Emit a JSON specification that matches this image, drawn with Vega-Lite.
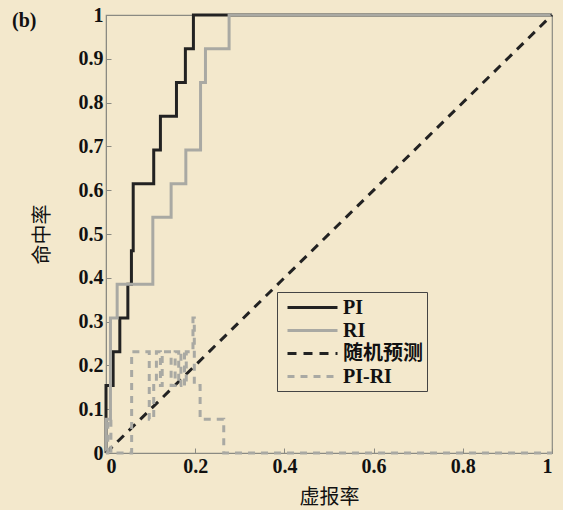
{
  "$schema": "https://vega.github.io/schema/vega-lite/v6.json",
  "width": 446,
  "height": 438,
  "autosize": "none",
  "padding": {"left": 106, "top": 15, "right": 11, "bottom": 57},
  "background": "#f3e8cc",
  "title": {"text": "(b)", "anchor": "start", "frame": "group", "dx": -94, "offset": -26, "fontSize": 20, "font": "Liberation Serif", "fontWeight": "bold", "color": "#111"},
  "config": {
    "view": {"stroke": "#8a8a82", "strokeWidth": 1.2},
    "axis": {"domainColor": "#8a8a82", "tickColor": "#8a8a82", "grid": false, "labelFont": "Liberation Serif", "labelFontWeight": "bold", "labelFontSize": 20, "labelColor": "#111", "titleFont": "Noto Sans CJK SC", "titleFontSize": 20, "titleFontWeight": "normal", "titleColor": "#111", "tickSize": -5, "labelPadding": 8}
  },
  "data": {"values": [
    {"s":"PI","i":0,"x":0,"y":0},{"s":"PI","i":1,"x":0,"y":0.154},{"s":"PI","i":2,"x":0.016,"y":0.154},{"s":"PI","i":3,"x":0.016,"y":0.231},{"s":"PI","i":4,"x":0.031,"y":0.231},{"s":"PI","i":5,"x":0.031,"y":0.308},{"s":"PI","i":6,"x":0.049,"y":0.308},{"s":"PI","i":7,"x":0.049,"y":0.385},{"s":"PI","i":8,"x":0.057,"y":0.385},{"s":"PI","i":9,"x":0.057,"y":0.462},{"s":"PI","i":10,"x":0.061,"y":0.462},{"s":"PI","i":11,"x":0.061,"y":0.615},{"s":"PI","i":12,"x":0.107,"y":0.615},{"s":"PI","i":13,"x":0.107,"y":0.692},{"s":"PI","i":14,"x":0.122,"y":0.692},{"s":"PI","i":15,"x":0.122,"y":0.769},{"s":"PI","i":16,"x":0.158,"y":0.769},{"s":"PI","i":17,"x":0.158,"y":0.846},{"s":"PI","i":18,"x":0.178,"y":0.846},{"s":"PI","i":19,"x":0.178,"y":0.923},{"s":"PI","i":20,"x":0.196,"y":0.923},{"s":"PI","i":21,"x":0.196,"y":1},{"s":"PI","i":22,"x":1,"y":1},
    {"s":"RI","i":0,"x":0,"y":0},{"s":"RI","i":1,"x":0,"y":0.077},{"s":"RI","i":2,"x":0.01,"y":0.077},{"s":"RI","i":3,"x":0.01,"y":0.308},{"s":"RI","i":4,"x":0.025,"y":0.308},{"s":"RI","i":5,"x":0.025,"y":0.385},{"s":"RI","i":6,"x":0.105,"y":0.385},{"s":"RI","i":7,"x":0.105,"y":0.538},{"s":"RI","i":8,"x":0.146,"y":0.538},{"s":"RI","i":9,"x":0.146,"y":0.615},{"s":"RI","i":10,"x":0.179,"y":0.615},{"s":"RI","i":11,"x":0.179,"y":0.692},{"s":"RI","i":12,"x":0.212,"y":0.692},{"s":"RI","i":13,"x":0.212,"y":0.846},{"s":"RI","i":14,"x":0.223,"y":0.846},{"s":"RI","i":15,"x":0.223,"y":0.923},{"s":"RI","i":16,"x":0.276,"y":0.923},{"s":"RI","i":17,"x":0.276,"y":1},{"s":"RI","i":18,"x":1,"y":1},
    {"s":"随机预测","i":0,"x":0,"y":0},{"s":"随机预测","i":1,"x":1,"y":1},
    {"s":"PI-RI","i":0,"x":0,"y":0},{"s":"PI-RI","i":1,"x":0.004,"y":0},{"s":"PI-RI","i":2,"x":0.004,"y":0.077},{"s":"PI-RI","i":3,"x":0.011,"y":0.077},{"s":"PI-RI","i":4,"x":0.011,"y":0},{"s":"PI-RI","i":5,"x":0.0575,"y":0},{"s":"PI-RI","i":6,"x":0.0575,"y":0.231},{"s":"PI-RI","i":7,"x":0.097,"y":0.231},{"s":"PI-RI","i":8,"x":0.097,"y":0.077},{"s":"PI-RI","i":9,"x":0.107,"y":0.077},{"s":"PI-RI","i":10,"x":0.107,"y":0.154},{"s":"PI-RI","i":11,"x":0.113,"y":0.154},{"s":"PI-RI","i":12,"x":0.113,"y":0.231},{"s":"PI-RI","i":13,"x":0.122,"y":0.231},{"s":"PI-RI","i":14,"x":0.122,"y":0.154},{"s":"PI-RI","i":15,"x":0.126,"y":0.154},{"s":"PI-RI","i":16,"x":0.126,"y":0.231},{"s":"PI-RI","i":17,"x":0.146,"y":0.231},{"s":"PI-RI","i":18,"x":0.146,"y":0.154},{"s":"PI-RI","i":19,"x":0.155,"y":0.154},{"s":"PI-RI","i":20,"x":0.155,"y":0.231},{"s":"PI-RI","i":21,"x":0.163,"y":0.231},{"s":"PI-RI","i":22,"x":0.163,"y":0.154},{"s":"PI-RI","i":23,"x":0.168,"y":0.154},{"s":"PI-RI","i":24,"x":0.168,"y":0.231},{"s":"PI-RI","i":25,"x":0.176,"y":0.231},{"s":"PI-RI","i":26,"x":0.176,"y":0.154},{"s":"PI-RI","i":27,"x":0.18,"y":0.154},{"s":"PI-RI","i":28,"x":0.18,"y":0.231},{"s":"PI-RI","i":29,"x":0.195,"y":0.231},{"s":"PI-RI","i":30,"x":0.195,"y":0.308},{"s":"PI-RI","i":31,"x":0.198,"y":0.308},{"s":"PI-RI","i":32,"x":0.198,"y":0.154},{"s":"PI-RI","i":33,"x":0.211,"y":0.154},{"s":"PI-RI","i":34,"x":0.211,"y":0.077},{"s":"PI-RI","i":35,"x":0.264,"y":0.077},{"s":"PI-RI","i":36,"x":0.264,"y":0},{"s":"PI-RI","i":37,"x":1,"y":0}
  ]},
  "mark": {"type": "line", "strokeWidth": 3, "clip": false},
  "encoding": {
    "x": {"field": "x", "type": "quantitative", "scale": {"domain": [0, 1], "nice": false, "zero": false},
      "axis": {"values": [0, 0.2, 0.4, 0.6, 0.8, 1], "format": "~g", "title": "虚报率", "titleX": 223, "titleY": 44, "titleBaseline": "middle", "titleAlign": "center"}},
    "y": {"field": "y", "type": "quantitative", "scale": {"domain": [0, 1], "nice": false, "zero": false},
      "axis": {"values": [0, 0.1, 0.2, 0.3, 0.4, 0.5, 0.6, 0.7, 0.8, 0.9, 1], "format": "~g", "title": "命中率", "titleX": -64, "titleY": 219, "titleBaseline": "middle", "titleAlign": "center", "titleAngle": -90}},
    "order": {"field": "i", "type": "quantitative"},
    "color": {"field": "s", "type": "nominal", "sort": null,
      "scale": {"domain": ["PI", "RI", "随机预测", "PI-RI"], "range": ["#222222", "#a9a9a3", "#222222", "#a9a9a3"]},
      "legend": {"orient": "none", "legendX": 171, "legendY": 277, "title": null, "strokeColor": "#444", "padding": 4, "symbolType": "M-2.5,0H2.5", "symbolSize": 400, "symbolStrokeWidth": 3, "symbolOffset": 20, "labelFont": "Liberation Serif, Noto Sans CJK SC", "labelFontSize": 20, "labelFontWeight": "bold", "labelColor": "#111", "rowPadding": 1, "labelOffset": 19}},
    "strokeDash": {"field": "s", "type": "nominal", "sort": null,
      "scale": {"domain": ["PI", "RI", "随机预测", "PI-RI"], "range": [[1, 0], [1, 0], [9, 7], [7, 6]]},
      "legend": null}
  }
}
